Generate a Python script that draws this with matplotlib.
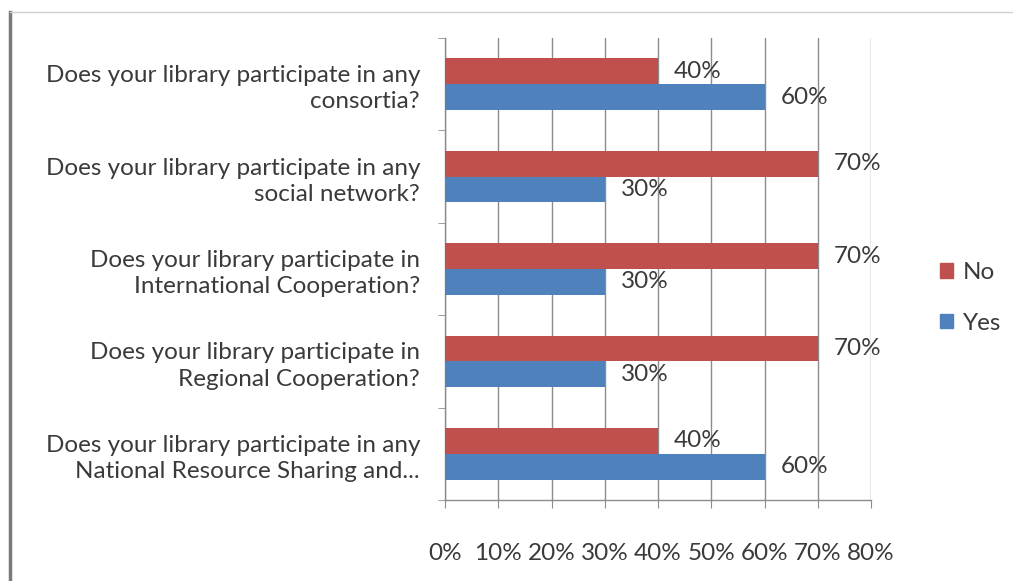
import matplotlib
matplotlib.use("Agg")
import matplotlib.pyplot as plt
import numpy as np
from matplotlib.patches import Patch

questions = [
    "Does your library participate in any\nNational Resource Sharing and...",
    "Does your library participate in\nRegional Cooperation?",
    "Does your library participate in\nInternational Cooperation?",
    "Does your library participate in any\nsocial network?",
    "Does your library participate in any\nconsortia?",
]
no_pct = [40, 70, 70, 70, 40]
yes_pct = [60, 30, 30, 30, 60]
x_ticks = [0, 10, 20, 30, 40, 50, 60, 70, 80]

RED = "#C0504D"
BLUE = "#4F81BD"
TEXT = "#3a3a3a"
GRID = "#8c8c8c"
FS = 17.5

plt.rcParams["font.family"] = ["Lato", "DejaVu Sans"]

fig = plt.figure(figsize=(10.13, 5.81), dpi=100)
ax = fig.add_axes([445 / 1013, 1 - 500 / 581, (871 - 445) / 1013, (500 - 38) / 581])

y = np.arange(len(questions))
h = 0.28
ax.barh(y + h / 2, no_pct, height=h, color=RED, zorder=3)
ax.barh(y - h / 2, yes_pct, height=h, color=BLUE, zorder=3)

for yi, v in zip(y, no_pct):
    ax.text(v + 3, yi + h / 2, f"{v}%", va="center", ha="left", fontsize=FS, color=TEXT, zorder=4)
for yi, v in zip(y, yes_pct):
    ax.text(v + 3, yi - h / 2, f"{v}%", va="center", ha="left", fontsize=FS, color=TEXT, zorder=4)

ax.set_xlim(0, 80)
ax.set_ylim(-0.5, len(questions) - 0.5)
ax.set_xticks(x_ticks)
ax.set_xticklabels([f"{t}%" for t in x_ticks], fontsize=FS, color=TEXT)
ax.set_yticks(y)
ax.set_yticklabels(questions, fontsize=FS, color=TEXT, ha="right", multialignment="right",
                   linespacing=1.3)
ax.set_yticks(np.arange(len(questions) + 1) - 0.5, minor=True)
ax.tick_params(axis="y", which="major", length=0, pad=18)
ax.tick_params(axis="y", which="minor", length=5, color=GRID, direction="out")
ax.tick_params(axis="x", length=6, color=GRID, direction="out", pad=25)

ax.grid(axis="x", color=GRID, linewidth=1, zorder=0)
for s in ["top", "right"]:
    ax.spines[s].set_visible(False)
for s in ["left", "bottom"]:
    ax.spines[s].set_color(GRID)
    ax.spines[s].set_linewidth(1)

handles = [Patch(color=RED, label="No"), Patch(color=BLUE, label="Yes")]
fig.legend(handles=handles, loc="center left", bbox_to_anchor=(918 / 1013, 1 - 298 / 581),
           frameon=False, fontsize=FS, labelcolor=TEXT, handlelength=0.55, handleheight=0.55,
           handletextpad=0.4, labelspacing=1.2)

# chart frame edges
fig.add_artist(plt.Line2D([10 / 1013, 10 / 1013], [0, 1 - 12 / 581], color="#7a7a7a", linewidth=2.5, transform=fig.transFigure))
fig.add_artist(plt.Line2D([10 / 1013, 1], [1 - 12 / 581, 1 - 12 / 581], color="#d0d0d0", linewidth=1, transform=fig.transFigure))

fig.savefig("out.png", dpi=100)
